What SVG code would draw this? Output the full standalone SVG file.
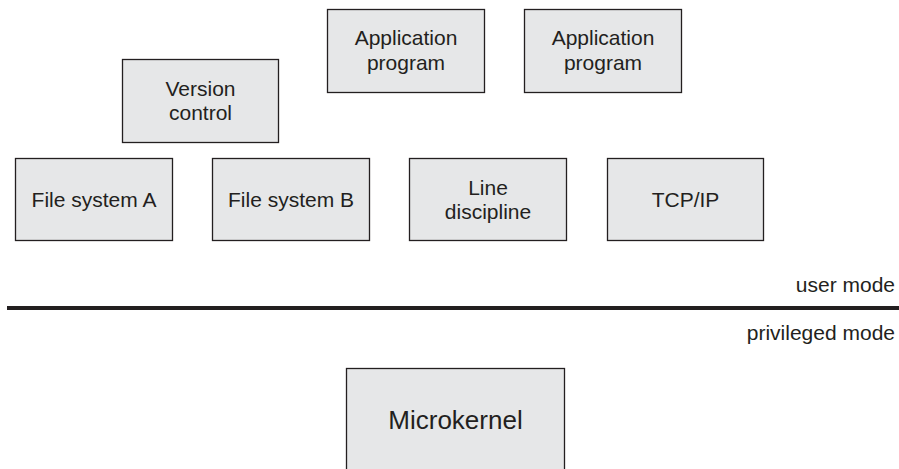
<svg xmlns="http://www.w3.org/2000/svg" width="899" height="469" viewBox="0 0 899 469">
<style>
.box{fill:#e6e7e8;stroke:#231f20;stroke-width:1.3}
.t{font-family:"Liberation Sans",Arial,sans-serif;font-size:21px;fill:#231f20;text-anchor:middle}
.lbl{font-family:"Liberation Sans",Arial,sans-serif;font-size:21px;fill:#231f20;text-anchor:end}
</style>
<rect width="899" height="469" fill="#fff"/>
<g id="app1"><rect class="box" x="327.5" y="9.5" width="157" height="83"/><text class="t" x="406" y="45">Application</text><text class="t" x="406" y="70">program</text></g>
<g id="app2"><rect class="box" x="524.5" y="9.5" width="157" height="83"/><text class="t" x="603" y="45">Application</text><text class="t" x="603" y="70">program</text></g>
<g id="version"><rect class="box" x="122.5" y="59.5" width="156" height="83"/><text class="t" x="200.5" y="96">Version</text><text class="t" x="200.5" y="120">control</text></g>
<g id="fsa"><rect class="box" x="15.5" y="158.5" width="157" height="82"/><text class="t" x="94" y="207">File system A</text></g>
<g id="fsb"><rect class="box" x="212.5" y="158.5" width="157" height="82"/><text class="t" x="291" y="207">File system B</text></g>
<g id="line"><rect class="box" x="409.5" y="158.5" width="157" height="82"/><text class="t" x="488" y="195">Line</text><text class="t" x="488" y="219">discipline</text></g>
<g id="tcp"><rect class="box" x="607.5" y="158.5" width="156" height="82"/><text class="t" x="685.5" y="207">TCP/IP</text></g>
<g id="connectors"><line x1="7" y1="308" x2="899" y2="308" stroke="#231f20" stroke-width="4"/></g>
<text class="lbl" x="895" y="292">user mode</text>
<text class="lbl" x="895" y="340">privileged mode</text>
<g id="microkernel"><rect class="box" x="346.5" y="368.5" width="218" height="110"/><text class="t" x="455.5" y="429" style="font-size:26px">Microkernel</text></g>
</svg>
